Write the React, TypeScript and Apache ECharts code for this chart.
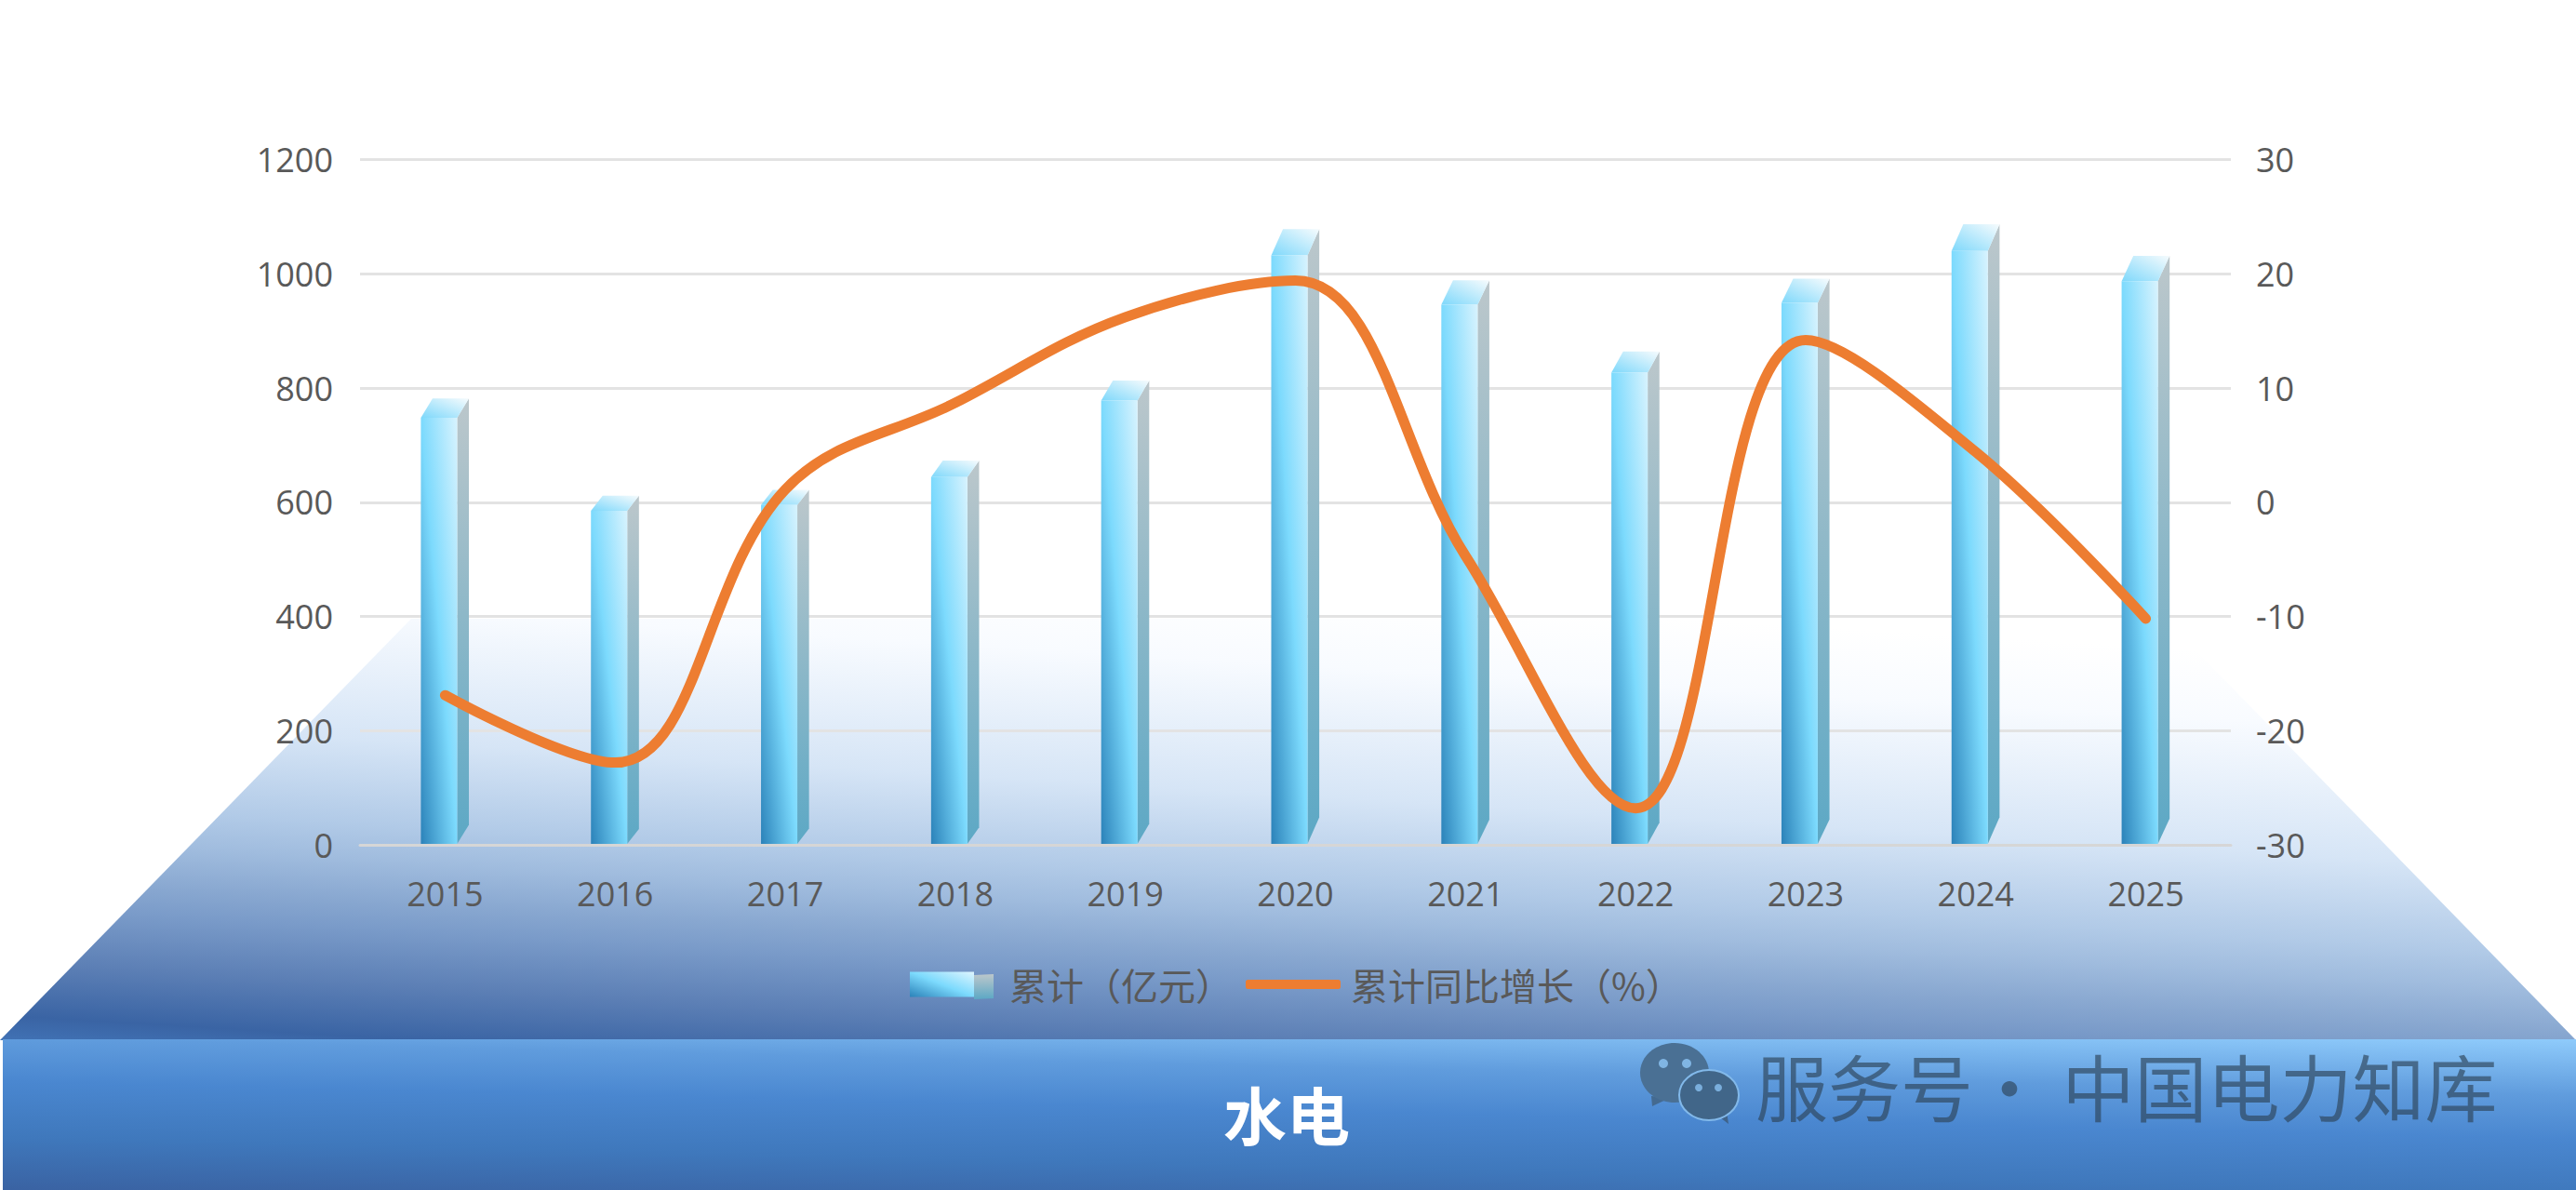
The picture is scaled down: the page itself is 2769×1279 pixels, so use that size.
import React, { useEffect, useRef } from "react";
import * as echarts from "echarts";

const years = ["2015", "2016", "2017", "2018", "2019", "2020", "2021", "2022", "2023", "2024", "2025"];
const cumulative = [748, 585, 595, 644, 778, 1032, 946, 827, 949, 1040, 987];
const growth = [-16.9, -22.8, 1.1, 8.7, 16.2, 19.4, -4.7, -26.8, 14.2, 4.4, -10.2];
const barName = "累计（亿元）";
const lineName = "累计同比增长（%）";
const title = "水电";
const watermark = "服务号· 中国电力知库";

const W = 2769;
const H = 1279;
const LABEL = "#595959";
const TICK_FONT = "'Open Sans'";
const CJK = "'Noto Sans CJK SC'";
const ORANGE = "#ED7D31";

const lin = (x: number, y: number, x2: number, y2: number, stops: [number, string][], global = false) => ({
  type: "linear",
  x,
  y,
  x2,
  y2,
  global,
  colorStops: stops.map(([offset, color]) => ({ offset, color })),
});

const frontFill = lin(0, 1, 1, 0, [[0, "#2b82b9"], [0.5, "#7cdafd"], [1, "#d8f3fe"]]);
const sideFill = lin(0, 0, 0, 1, [[0, "#bcc7cb"], [1, "#5ca8c5"]]);
const topFill = lin(0, 1, 1, 0, [[0, "#7ed8fb"], [1, "#f6fbfd"]]);

const bgFill = lin(1385, 640, 1351, 1209, [
  [0, "#ffffff"], [0.13, "#f8fbff"], [0.375, "#d6e5f6"], [0.535, "#b1cae7"], [0.6, "#a0bcde"],
  [0.68, "#88a7d0"], [0.73, "#7a9bc9"], [0.835, "#5c7fb5"], [0.935, "#3a64a4"], [1, "#4377bb"],
], true);
const bandFill = lin(2769, 1117, 2764, 1340, [
  [0, "#8fcbfb"], [0.27, "#609cdd"], [0.48, "#4a87d0"], [0.75, "#3f78bc"], [1, "#3a63a3"],
], true);

function renderBar(_: any, api: any) {
  const i = api.value(0);
  const [cx, y] = api.coord([i, api.value(1)]);
  const [, y0raw] = api.coord([i, 0]);
  const y0 = y0raw - 1;
  const d = (y0 - y) * 0.045;
  const l = cx - 26;
  const r = cx + 13;
  const dx = 12.6;
  return {
    type: "group",
    children: [
      { type: "polygon", shape: { points: [[r, y], [r + dx, y - d], [r + dx, y0 - d], [r, y0]] }, style: { fill: sideFill } },
      { type: "polygon", shape: { points: [[l, y], [l + dx, y - d], [r + dx, y - d], [r, y]] }, style: { fill: topFill } },
      { type: "rect", shape: { x: l, y, width: r - l, height: y0 - y }, style: { fill: frontFill } },
    ],
  };
}

export default function App() {
  const ref = useRef<HTMLDivElement>(null);
  useEffect(() => {
    document.body.style.margin = "0";
    document.body.style.background = "#fff";
    const chart = echarts.init(ref.current!, undefined, { renderer: "svg" });
    const tick = { color: LABEL, fontFamily: TICK_FONT, fontSize: 36 };
    chart.setOption({
      animation: false,
      backgroundColor: "#fff",
      grid: { left: 387, right: W - 2398, top: 171.5, bottom: H - 908 },
      xAxis: {
        type: "category",
        data: years,
        axisTick: { show: false },
        axisLine: { lineStyle: { color: "#d6d6d6", width: 3 } },
        axisLabel: { ...tick, margin: 34 },
      },
      yAxis: [
        {
          type: "value", min: 0, max: 1200, interval: 200,
          axisLine: { show: false }, axisTick: { show: false },
          splitLine: { lineStyle: { color: "#e3e3e3", width: 3 } },
          axisLabel: { ...tick, margin: 29, formatter: (v: number) => String(v) },
        },
        {
          type: "value", min: -30, max: 30, interval: 10, position: "right",
          axisLine: { show: false }, axisTick: { show: false }, splitLine: { show: false },
          axisLabel: { ...tick, margin: 27, formatter: (v: number) => String(v) },
        },
      ],
      legend: [
        {
          data: [{ name: barName, icon: "rect", itemStyle: { color: lin(0, 1, 1, 0, [[0, "#2b82b9"], [0.5, "#7cdafd"], [1, "#dff5fe"]]) } }],
          left: 978, top: 1038, padding: 0, itemWidth: 69, itemHeight: 27, selectedMode: false,
          textStyle: { color: LABEL, fontFamily: CJK, fontSize: 40, padding: [0, 0, 0, 33] },
        },
        {
          data: [{ name: lineName, icon: "roundRect", itemStyle: { color: ORANGE } }],
          left: 1339, top: 1038, padding: 0, itemWidth: 102, itemHeight: 10, selectedMode: false,
          textStyle: { color: LABEL, fontFamily: CJK, fontSize: 40, padding: [0, 0, 0, 6] },
        },
      ],
      graphic: [
        { type: "polygon", z: -10, shape: { points: [[0, 1118], [442, 665], [2327, 665], [2769, 1118]] }, style: { fill: bgFill } },
        { type: "rect", z: -9, shape: { x: 3, y: 1117, width: W - 3, height: H - 1117 }, style: { fill: bandFill } },
        { type: "text", z: 5, x: 1383, y: 1196, style: { text: title, fill: "#fff", font: `bold 68px ${CJK}`, align: "center", verticalAlign: "middle" } },
        { type: "text", z: 5, x: 1887, y: 1166, style: { text: watermark, fill: "rgba(45,68,90,0.66)", font: `78px ${CJK}`, align: "left", verticalAlign: "middle" } },
        { type: "polygon", z: 5, shape: { points: [[1047, 1048], [1068, 1047], [1068, 1073], [1047, 1074]] }, style: { fill: sideFill } },
        { type: "polygon", z: 5, shape: { points: [[1775, 1178], [1776, 1189], [1795, 1180]] }, style: { fill: "#446a90" } },
        { type: "ellipse", z: 5, shape: { cx: 1800, cy: 1153, rx: 37, ry: 32 }, style: { fill: "#4a7094" } },
        { type: "circle", z: 6, shape: { cx: 1788, cy: 1143, r: 5 }, style: { fill: "#80b5e3" } },
        { type: "circle", z: 6, shape: { cx: 1813, cy: 1143, r: 5 }, style: { fill: "#80b5e3" } },
        { type: "polygon", z: 6, shape: { points: [[1845, 1198], [1858, 1208], [1856, 1194]] }, style: { fill: "#3f638a" } },
        { type: "ellipse", z: 6, shape: { cx: 1837, cy: 1177, rx: 32, ry: 27 }, style: { fill: "#416689", stroke: "#82b9ea", lineWidth: 2 } },
        { type: "circle", z: 7, shape: { cx: 1826, cy: 1169, r: 4 }, style: { fill: "#7aaedc" } },
        { type: "circle", z: 7, shape: { cx: 1847, cy: 1169, r: 4 }, style: { fill: "#7aaedc" } },
      ],
      series: [
        {
          name: barName,
          type: "custom",
          renderItem: renderBar,
          clip: false,
          z: 2,
          encode: { x: 0, y: 1 },
          data: cumulative.map((v, i) => [i, v]),
        },
        {
          name: lineName,
          type: "line",
          yAxisIndex: 1,
          data: growth,
          smooth: 0.38,
          showSymbol: false,
          symbol: "none",
          z: 3,
          itemStyle: { color: ORANGE },
          lineStyle: { color: ORANGE, width: 11, cap: "round", join: "round" },
        },
      ],
    });
    return () => chart.dispose();
  }, []);
  return <div ref={ref} style={{ position: "absolute", left: 0, top: 0, width: W, height: H }} />;
}
